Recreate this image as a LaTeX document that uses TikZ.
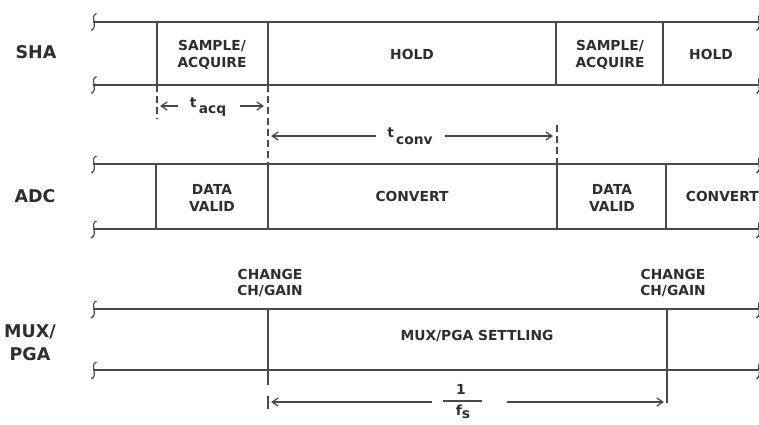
\documentclass[tikz,border=0pt]{standalone}
\usepackage{fontspec}
\setmainfont{DejaVu Sans}
\usetikzlibrary{arrows.meta}
\definecolor{ln}{HTML}{4a4a4a}
\definecolor{tx}{HTML}{2e2e2e}
\tikzset{
  band/.style={draw=ln,line width=2pt},
  divider/.style={draw=ln,line width=1.4pt},
  dashline/.style={draw=ln,line width=1.3pt,dash pattern=on 7pt off 4pt},
  dimarrow/.style={draw=ln,line width=1.3pt,-{Straight Barb[length=6pt,width=8pt]}},
  txt/.style={text=tx,font=\fontsize{13.8}{16.5}\selectfont\bfseries,align=center,inner sep=0pt},
  rowlbl/.style={text=tx,font=\fontsize{17.5}{23}\selectfont\bfseries,align=center,inner sep=0pt},
  brk/.pic={\draw[ln,line width=1.2pt] (3.5,-8) .. controls (-4,-5) and (6,4) .. (-1.5,9);}
}
\begin{document}
\begin{tikzpicture}[x=1pt,y=-1pt]
\useasboundingbox (0,0) rectangle (759,424);
% ---------- SHA ----------
\draw[band] (93,21.5) -- (759,21.5);
\draw[band] (93,84.5) -- (759,84.5);
\foreach \xx in {157,268,556,663} \draw[divider] (\xx,21.5) -- (\xx,84.5);
\pic at (93,21.5) {brk}; \pic at (93,84.5) {brk};
\pic at (758,21.5) {brk}; \pic at (758,84.5) {brk};
\node[rowlbl] (sha) at (36,52) {SHA};
\node[txt] (sa1) at (212,55) {SAMPLE/\\ACQUIRE};
\node[txt] (hold1) at (412,54) {HOLD};
\node[txt] (sa2) at (610,55) {SAMPLE/\\ACQUIRE};
\node[txt] (hold2) at (711,54) {HOLD};
% ---------- ADC ----------
\draw[band] (93,164) -- (759,164);
\draw[band] (93,229) -- (759,229);
\foreach \xx in {156,268,557,666} \draw[divider] (\xx,164) -- (\xx,229);
\pic at (93,164) {brk}; \pic at (93,229) {brk};
\pic at (758,164) {brk}; \pic at (758,229) {brk};
\node[rowlbl] (adc) at (35,196) {ADC};
\node[txt] (dv1) at (212,198) {DATA\\VALID};
\node[txt] (cv1) at (412,196) {CONVERT};
\node[txt] (dv2) at (612,198) {DATA\\VALID};
\node[txt,anchor=east] (cv2) at (759,196) {CONVERT};
% ---------- dashed markers ----------
\draw[dashline] (157,84.5) -- (157,118);
\draw[dashline] (268,84.5) -- (268,164);
\draw[dashline] (557,125) -- (557,164);
% t_acq
\node[txt] (tacq) at (208,107) {t\,\raisebox{-6pt}{acq}};
\coordinate (acqL) at (160,106);
\coordinate (acqR) at (264,106);
\draw[dimarrow] (178,106) -- (acqL);
\draw[dimarrow] (240,106) -- (acqR);
% t_conv
\node[txt] (tconv) at (410,136) {t\,\raisebox{-7pt}{conv}};
\coordinate (convL) at (271,136);
\coordinate (convR) at (553,136);
\draw[dimarrow] (376,136) -- (convL);
\draw[dimarrow] (445,136) -- (convR);
% ---------- MUX/PGA ----------
\node[txt] (chg1) at (270,283) {CHANGE\\CH/GAIN};
\node[txt] (chg2) at (673,283) {CHANGE\\CH/GAIN};
\draw[band] (93,309) -- (759,309);
\draw[band] (93,370) -- (759,370);
\draw[divider] (268,309) -- (268,385);
\draw[divider] (667,309) -- (667,403);
\draw[divider] (268,396) -- (268,409);
\pic at (93,309) {brk}; \pic at (93,370) {brk};
\pic at (758,309) {brk}; \pic at (758,370) {brk};
\node[rowlbl] (mux) at (30,343) {MUX/\\PGA};
\node[txt] (settle) at (477,336) {MUX/PGA SETTLING};
% 1/f_s
\node[txt] (one) at (461,389) {1};
\node[txt] (fs) at (463,412) {f\raisebox{-3pt}{s}};
\draw[ln,line width=1.3pt] (443,401) -- (482,401);
\coordinate (fsL) at (271,402);
\coordinate (fsR) at (664,402);
\draw[dimarrow] (432,402) -- (fsL);
\draw[dimarrow] (507,402) -- (fsR);
\end{tikzpicture}
\end{document}
